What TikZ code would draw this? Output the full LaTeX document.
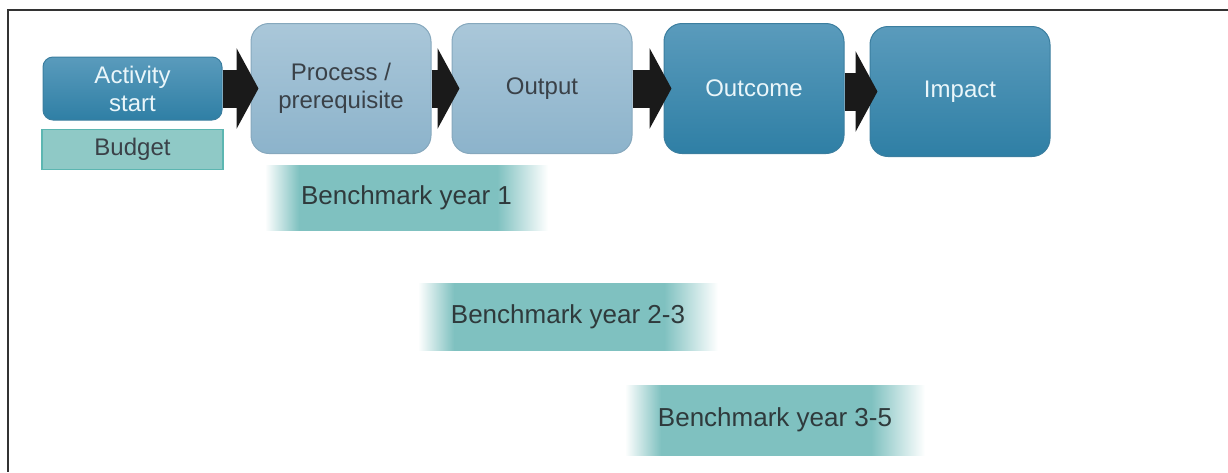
\documentclass[tikz,border=0pt]{standalone}
\usepackage{fontspec}
\setmainfont{Liberation Sans}
\usetikzlibrary{arrows.meta,positioning}

\definecolor{paletop}{HTML}{AAC7D9}
\definecolor{palebot}{HTML}{8CB3CB}
\definecolor{paleedge}{HTML}{86A8BD}
\definecolor{paletext}{HTML}{3A4148}
\definecolor{deeptop}{HTML}{5A9BBC}
\definecolor{deepbot}{HTML}{2F7FA5}
\definecolor{deepedge}{HTML}{3B7E9F}
\definecolor{deeptext}{HTML}{EAF6FA}
\definecolor{budgetfill}{HTML}{8FC9C6}
\definecolor{budgetedge}{HTML}{5CB6B1}
\definecolor{benchteal}{HTML}{7FC1C0}
\definecolor{benchtext}{HTML}{2F3A3C}
\definecolor{arrowblack}{HTML}{1A1A1A}
\definecolor{framegray}{HTML}{333333}

\pgfdeclarehorizontalshading{benchfade}{100bp}{color(0bp)=(white); color(25bp)=(white); color(31bp)=(benchteal); color(66bp)=(benchteal); color(75bp)=(white); color(100bp)=(white)}

\begin{document}
\begin{tikzpicture}[
    x=0.5pt, y=-0.5pt,
    font=\fontsize{12}{14}\selectfont,
    every node/.style={align=center},
    box/.style={draw, rounded corners=9pt, minimum width=90pt, minimum height=65pt, inner sep=2pt, line width=0.5pt},
    pale/.style={box, draw=paleedge, top color=paletop, bottom color=palebot, text=paletext},
    deep/.style={box, draw=deepedge, top color=deeptop, bottom color=deepbot, text=deeptext},
    startbox/.style={deep, rounded corners=5pt, minimum width=89.5pt, minimum height=31.5pt},
    budget/.style={draw=budgetedge, fill=budgetfill, line width=0.8pt, minimum width=90.5pt, minimum height=20pt, text=paletext},
    bench/.style={shade, shading=benchfade, minimum width=150pt, minimum height=33.5pt, text=benchtext, font=\fontsize{13}{15}\selectfont},
    fat/.style={line width=19pt, draw=arrowblack, -{Triangle[length=11pt, width=40pt]}, shorten >=-4pt},
    frame/.style={draw=framegray, line width=1pt},
]
\useasboundingbox (0,0) rectangle (1228,472);

% --- Frame (top and left edge only) ---
\coordinate (corner) at (8,10);
\draw[frame] (1228,10) -- (corner) -- (8,472);

% --- Activity start & budget ---
\node[startbox] (act)    at (132.5,88.5) {Activity\\start};
\node[budget]   (budget) [below=4pt of act] {Budget};

% --- Chain of results ---
\node[pale] (proc)   [right=14pt of act]   {Process /\\prerequisite};
\node[pale] (output) [right=10pt of proc]  {Output};
\node[deep] (outc)   [right=15.5pt of output] {Outcome};
\node[deep] (impact) [right=12.5pt of outc, yshift=-1.5pt] {Impact};

% --- Fat arrows between the steps ---
\draw[fat] (act.east |- proc.west) -- (proc.west);
\draw[fat] (proc.east) -- (output.west);
\draw[fat] (output.east) -- (outc.west);
\draw[fat] (outc.east |- impact.west) -- (impact.west);

% --- Benchmarks ---
\node[bench, minimum width=141.5pt, minimum height=32.5pt] (bench1) at (406.5,197.5) {Benchmark year 1};
\node[bench] (bench2) at (568,316.5) {Benchmark year 2-3};
\node[bench, minimum height=35pt] (bench3) at (775,420) {Benchmark year 3-5};

\end{tikzpicture}
\end{document}
